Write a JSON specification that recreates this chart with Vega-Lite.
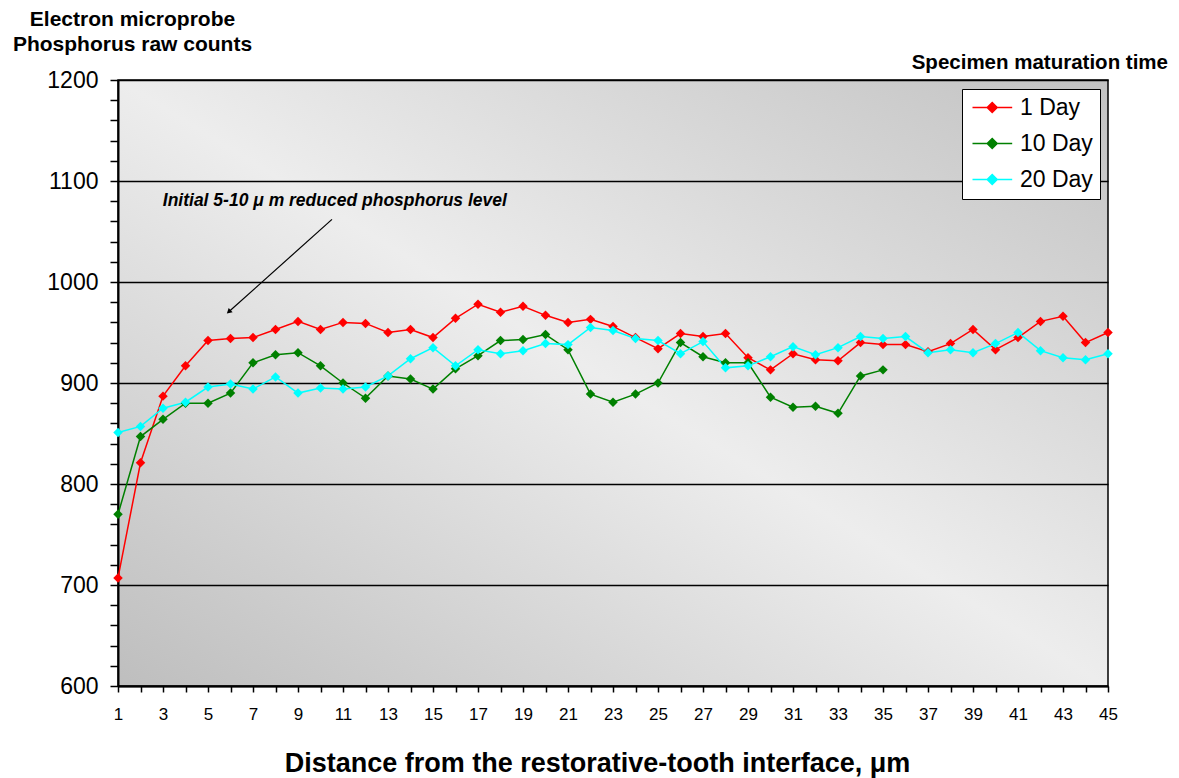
{
  "$schema": "https://vega.github.io/schema/vega-lite/v6.json",
  "width": 990,
  "height": 606,
  "autosize": {"type": "none"},
  "padding": {"left": 118, "top": 80, "right": 71, "bottom": 92},
  "background": "white",
  "title": {"text": "Specimen maturation time", "anchor": "end", "orient": "top", "frame": "group", "dx": 60, "dy": 92, "offset": 11, "baseline": "alphabetic", "font": "Liberation Sans", "fontSize": 20.5, "fontWeight": "bold", "color": "black"},
  "config": {
    "view": {
      "stroke": "black",
      "strokeWidth": 1.5,
      "fill": {"gradient": "linear", "x1": 0, "y1": 1, "x2": 1, "y2": 0, "stops": [{"offset": 0, "color": "#bebebe"}, {"offset": 0.5, "color": "#ededed"}, {"offset": 1, "color": "#c2c2c2"}]}
    }
  },
  "datasets": {
    "probe": [
      {"series": "1 Day", "x": 1, "y": 707}, {"series": "1 Day", "x": 2, "y": 821}, {"series": "1 Day", "x": 3, "y": 887}, {"series": "1 Day", "x": 4, "y": 917}, {"series": "1 Day", "x": 5, "y": 942},
      {"series": "1 Day", "x": 6, "y": 944}, {"series": "1 Day", "x": 7, "y": 945}, {"series": "1 Day", "x": 8, "y": 953}, {"series": "1 Day", "x": 9, "y": 961}, {"series": "1 Day", "x": 10, "y": 953},
      {"series": "1 Day", "x": 11, "y": 960}, {"series": "1 Day", "x": 12, "y": 959}, {"series": "1 Day", "x": 13, "y": 950}, {"series": "1 Day", "x": 14, "y": 953}, {"series": "1 Day", "x": 15, "y": 945},
      {"series": "1 Day", "x": 16, "y": 964}, {"series": "1 Day", "x": 17, "y": 978}, {"series": "1 Day", "x": 18, "y": 970}, {"series": "1 Day", "x": 19, "y": 976}, {"series": "1 Day", "x": 20, "y": 967},
      {"series": "1 Day", "x": 21, "y": 960}, {"series": "1 Day", "x": 22, "y": 963}, {"series": "1 Day", "x": 23, "y": 956}, {"series": "1 Day", "x": 24, "y": 945}, {"series": "1 Day", "x": 25, "y": 934},
      {"series": "1 Day", "x": 26, "y": 949}, {"series": "1 Day", "x": 27, "y": 946}, {"series": "1 Day", "x": 28, "y": 949}, {"series": "1 Day", "x": 29, "y": 925}, {"series": "1 Day", "x": 30, "y": 913},
      {"series": "1 Day", "x": 31, "y": 929}, {"series": "1 Day", "x": 32, "y": 923}, {"series": "1 Day", "x": 33, "y": 922}, {"series": "1 Day", "x": 34, "y": 940}, {"series": "1 Day", "x": 35, "y": 938},
      {"series": "1 Day", "x": 36, "y": 938}, {"series": "1 Day", "x": 37, "y": 931}, {"series": "1 Day", "x": 38, "y": 939}, {"series": "1 Day", "x": 39, "y": 953}, {"series": "1 Day", "x": 40, "y": 933},
      {"series": "1 Day", "x": 41, "y": 945}, {"series": "1 Day", "x": 42, "y": 961}, {"series": "1 Day", "x": 43, "y": 966}, {"series": "1 Day", "x": 44, "y": 940}, {"series": "1 Day", "x": 45, "y": 950},
      {"series": "10 Day", "x": 1, "y": 770}, {"series": "10 Day", "x": 2, "y": 847}, {"series": "10 Day", "x": 3, "y": 864}, {"series": "10 Day", "x": 4, "y": 880}, {"series": "10 Day", "x": 5, "y": 880},
      {"series": "10 Day", "x": 6, "y": 890}, {"series": "10 Day", "x": 7, "y": 920}, {"series": "10 Day", "x": 8, "y": 928}, {"series": "10 Day", "x": 9, "y": 930}, {"series": "10 Day", "x": 10, "y": 917},
      {"series": "10 Day", "x": 11, "y": 900}, {"series": "10 Day", "x": 12, "y": 885}, {"series": "10 Day", "x": 13, "y": 907}, {"series": "10 Day", "x": 14, "y": 904}, {"series": "10 Day", "x": 15, "y": 894},
      {"series": "10 Day", "x": 16, "y": 914}, {"series": "10 Day", "x": 17, "y": 927}, {"series": "10 Day", "x": 18, "y": 942}, {"series": "10 Day", "x": 19, "y": 943}, {"series": "10 Day", "x": 20, "y": 948},
      {"series": "10 Day", "x": 21, "y": 933}, {"series": "10 Day", "x": 22, "y": 889}, {"series": "10 Day", "x": 23, "y": 881}, {"series": "10 Day", "x": 24, "y": 889}, {"series": "10 Day", "x": 25, "y": 900},
      {"series": "10 Day", "x": 26, "y": 940}, {"series": "10 Day", "x": 27, "y": 926}, {"series": "10 Day", "x": 28, "y": 920}, {"series": "10 Day", "x": 29, "y": 920}, {"series": "10 Day", "x": 30, "y": 886},
      {"series": "10 Day", "x": 31, "y": 876}, {"series": "10 Day", "x": 32, "y": 877}, {"series": "10 Day", "x": 33, "y": 870}, {"series": "10 Day", "x": 34, "y": 907}, {"series": "10 Day", "x": 35, "y": 913},
      {"series": "20 Day", "x": 1, "y": 851}, {"series": "20 Day", "x": 2, "y": 857}, {"series": "20 Day", "x": 3, "y": 875}, {"series": "20 Day", "x": 4, "y": 881}, {"series": "20 Day", "x": 5, "y": 896},
      {"series": "20 Day", "x": 6, "y": 899}, {"series": "20 Day", "x": 7, "y": 894}, {"series": "20 Day", "x": 8, "y": 906}, {"series": "20 Day", "x": 9, "y": 890}, {"series": "20 Day", "x": 10, "y": 895},
      {"series": "20 Day", "x": 11, "y": 894}, {"series": "20 Day", "x": 12, "y": 896}, {"series": "20 Day", "x": 13, "y": 907}, {"series": "20 Day", "x": 14, "y": 924}, {"series": "20 Day", "x": 15, "y": 935},
      {"series": "20 Day", "x": 16, "y": 917}, {"series": "20 Day", "x": 17, "y": 933}, {"series": "20 Day", "x": 18, "y": 929}, {"series": "20 Day", "x": 19, "y": 932}, {"series": "20 Day", "x": 20, "y": 939},
      {"series": "20 Day", "x": 21, "y": 938}, {"series": "20 Day", "x": 22, "y": 955}, {"series": "20 Day", "x": 23, "y": 952}, {"series": "20 Day", "x": 24, "y": 944}, {"series": "20 Day", "x": 25, "y": 942},
      {"series": "20 Day", "x": 26, "y": 929}, {"series": "20 Day", "x": 27, "y": 941}, {"series": "20 Day", "x": 28, "y": 915}, {"series": "20 Day", "x": 29, "y": 917}, {"series": "20 Day", "x": 30, "y": 926},
      {"series": "20 Day", "x": 31, "y": 936}, {"series": "20 Day", "x": 32, "y": 928}, {"series": "20 Day", "x": 33, "y": 935}, {"series": "20 Day", "x": 34, "y": 946}, {"series": "20 Day", "x": 35, "y": 944},
      {"series": "20 Day", "x": 36, "y": 946}, {"series": "20 Day", "x": 37, "y": 930}, {"series": "20 Day", "x": 38, "y": 933}, {"series": "20 Day", "x": 39, "y": 930}, {"series": "20 Day", "x": 40, "y": 939},
      {"series": "20 Day", "x": 41, "y": 950}, {"series": "20 Day", "x": 42, "y": 932}, {"series": "20 Day", "x": 43, "y": 925}, {"series": "20 Day", "x": 44, "y": 923}, {"series": "20 Day", "x": 45, "y": 929}
    ],
    "arrow": [{"x0": 10.51, "y0": 1062, "x1": 5.95, "y1": 971}],
    "note": [{"x": 2.99, "y": 1075, "text": "Initial 5-10 μ m reduced phosphorus level"}]
  },
  "layer": [
    {
      "data": {"name": "probe"},
      "mark": {"type": "line", "strokeWidth": 1.5},
      "encoding": {
        "x": {
          "field": "x", "type": "quantitative",
          "scale": {"domain": [1, 45], "nice": false, "zero": false},
          "axis": {
            "values": [1,2,3,4,5,6,7,8,9,10,11,12,13,14,15,16,17,18,19,20,21,22,23,24,25,26,27,28,29,30,31,32,33,34,35,36,37,38,39,40,41,42,43,44,45],
            "tickCount": 100,
            "format": "d",
            "labelExpr": "datum.value % 2 === 1 ? datum.label : ''",
            "labelFlush": false, "labelOverlap": false,
            "labelFont": "Liberation Sans", "labelFontSize": 17, "labelColor": "black", "labelPadding": 14,
            "tickSize": 6, "tickColor": "black", "tickWidth": 1.5,
            "domainColor": "black", "domainWidth": 2, "grid": false,
            "title": "Distance from the restorative-tooth interface, μm",
            "titleFont": "Liberation Sans", "titleFontSize": 27, "titleFontWeight": "bold", "titleColor": "black",
            "titleX": 479, "titleY": 85, "titleAlign": "center", "titleBaseline": "alphabetic"
          }
        },
        "y": {
          "field": "y", "type": "quantitative",
          "scale": {"domain": [600, 1200], "nice": false, "zero": false},
          "axis": {
            "values": [600,620,640,660,680,700,720,740,760,780,800,820,840,860,880,900,920,940,960,980,1000,1020,1040,1060,1080,1100,1120,1140,1160,1180,1200],
            "tickCount": 100,
            "format": "d",
            "labelExpr": "datum.value % 100 === 0 ? datum.label : ''",
            "labelOverlap": false,
            "labelFont": "Liberation Sans", "labelFontSize": 23, "labelColor": "black", "labelPadding": 12,
            "tickSize": 8, "tickColor": "black", "tickWidth": 1.5,
            "domainColor": "black", "domainWidth": 2,
            "grid": true, "gridColor": "black", "gridWidth": 1.5,
            "gridOpacity": {"condition": {"test": "datum.value % 100 === 0", "value": 1}, "value": 0},
            "title": ["Electron microprobe", "Phosphorus raw counts"],
            "titleAngle": 0, "titleX": 14, "titleY": -55, "titleAlign": "center", "titleBaseline": "alphabetic",
            "titleFont": "Liberation Sans", "titleFontSize": 21, "titleFontWeight": "bold", "titleColor": "black", "titleLineHeight": 25
          }
        },
        "color": {
          "field": "series", "type": "nominal",
          "scale": {"domain": ["1 Day", "10 Day", "20 Day"], "range": ["#ff0000", "#008000", "#00ffff"]},
          "legend": {
            "orient": "none", "legendX": 844, "legendY": 9, "title": null, "direction": "vertical",
            "fillColor": "white", "strokeColor": "black", "padding": 7, "rowPadding": 12,
            "symbolType": "M-0.8,0L3.17,0M1.17,-0.5L1.67,0L1.17,0.5L0.67,0Z",
            "symbolSize": 400, "symbolStrokeWidth": 1.5,
            "labelFont": "Liberation Sans", "labelFontSize": 23, "labelColor": "black", "labelOffset": 28,
            "encode": {"symbols": {"update": {"fill": {"scale": "color", "field": "value"}, "stroke": {"scale": "color", "field": "value"}}}}
          }
        }
      }
    },
    {
      "data": {"name": "probe"},
      "mark": {"type": "point", "shape": "diamond", "filled": true, "size": 90, "opacity": 1},
      "encoding": {
        "x": {"field": "x", "type": "quantitative"},
        "y": {"field": "y", "type": "quantitative"},
        "color": {"field": "series", "type": "nominal"}
      }
    },
    {
      "data": {"name": "arrow"},
      "mark": {"type": "rule", "color": "black", "strokeWidth": 1.2},
      "encoding": {
        "x": {"field": "x0", "type": "quantitative"},
        "y": {"field": "y0", "type": "quantitative"},
        "x2": {"field": "x1"},
        "y2": {"field": "y1"}
      }
    },
    {
      "data": {"name": "arrow"},
      "mark": {"type": "point", "shape": "triangle", "filled": true, "color": "black", "size": 35, "angle": 228, "opacity": 1},
      "encoding": {
        "x": {"field": "x1", "type": "quantitative"},
        "y": {"field": "y1", "type": "quantitative"}
      }
    },
    {
      "data": {"name": "note"},
      "mark": {"type": "text", "align": "left", "baseline": "alphabetic", "font": "Liberation Sans", "fontSize": 17.5, "fontStyle": "italic", "fontWeight": "bold", "color": "black"},
      "encoding": {
        "x": {"field": "x", "type": "quantitative"},
        "y": {"field": "y", "type": "quantitative"},
        "text": {"field": "text"}
      }
    }
  ]
}
